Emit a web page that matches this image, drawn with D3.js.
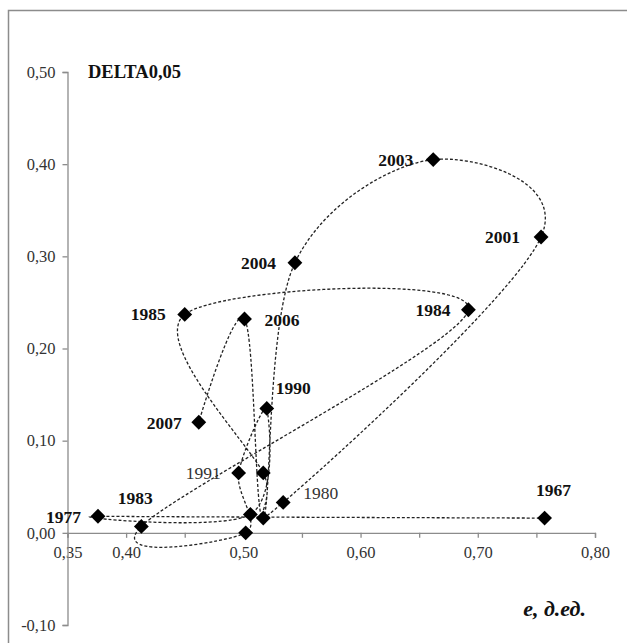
<!DOCTYPE html>
<html>
<head>
<meta charset="utf-8">
<script src="https://cdn.jsdelivr.net/npm/d3@7"></script>
<style>
  body { margin: 0; background: #fff; }
  svg { display: block; font-family: "Liberation Serif", "Times New Roman", serif; }
</style>
</head>
<body>
<svg class="chart" width="627" height="643"></svg>
<script>
// points in the order the smoothed line runs through them (unlabeled points left blank)
const years = ["1967", "1977", "", "1990", "1991", "", "1983", "1984", "1985", "", "1980", "2001", "2003", "2004", "", "2006", "2007"]
const eValues = [0.757, 0.376, 0.506, 0.520, 0.496, 0.502, 0.413, 0.692, 0.450, 0.517, 0.534, 0.754, 0.662, 0.544, 0.517, 0.501, 0.462]
const deltaValues = [0.016, 0.018, 0.020, 0.135, 0.065, 0.000, 0.007, 0.242, 0.237, 0.065, 0.033, 0.321, 0.405, 0.293, 0.016, 0.232, 0.120]

const xTicks = [0.35, 0.40, 0.45, 0.50, 0.55, 0.60, 0.65, 0.70, 0.75, 0.80]
const xTickLabels = ["0,35", "0,40", "", "0,50", "", "0,60", "", "0,70", "", "0,80"]
const yTicks = [-0.10, 0.00, 0.10, 0.20, 0.30, 0.40, 0.50]
const yTickLabels = ["-0,10", "0,00", "0,10", "0,20", "0,30", "0,40", "0,50"]

// label placement: [dx, dy, anchor, bold]
const labelPlace = {
  "1967": [9, -22, "middle", true],
  "1977": [-17, 7, "end", true],
  "1980": [20, -3, "start", false],
  "1983": [-6, -22, "middle", true],
  "1984": [-18, 6, "end", true],
  "1985": [-19, 6, "end", true],
  "1990": [9, -14, "start", true],
  "1991": [-18, 6, "end", false],
  "2001": [-21, 6, "end", true],
  "2003": [-20, 6, "end", true],
  "2004": [-19, 6, "end", true],
  "2006": [20, 7, "start", true],
  "2007": [-17, 7, "end", true]
}

const data = years.map((y, i) => ({ year: y, e: eValues[i], delta: deltaValues[i] }))

const svg = d3.select('svg.chart')

// frame (only top and left edges fall inside the picture)
svg.append('rect')
  .attr('x', 8.5).attr('y', 10.5)
  .attr('width', 700).attr('height', 700)
  .attr('fill', 'none')
  .attr('stroke', '#8c8c8c')
  .attr('stroke-width', 1.5)

const xScale = d3.scaleLinear().domain([0.35, 0.80]).range([67.5, 595])
const yScale = d3.scaleLinear().domain([-0.10, 0.50]).range([625, 72])

// x axis at zero
const xAxis = svg.append('g')
  .attr('transform', `translate(0, ${yScale(0)})`)
  .call(d3.axisBottom(xScale)
    .tickValues(xTicks)
    .tickSizeOuter(0)
    .tickSize(5)
    .tickFormat((d, i) => xTickLabels[i]))

// y axis at e = 0.35
const yAxis = svg.append('g')
  .attr('transform', `translate(${xScale(0.35)}, 0)`)
  .call(d3.axisLeft(yScale)
    .tickValues(yTicks)
    .tickSizeOuter(0)
    .tickSize(5)
    .tickFormat((d, i) => yTickLabels[i]))

svg.selectAll('.domain, .tick line').attr('stroke', '#8c8c8c').attr('stroke-width', 1.3)
svg.selectAll('.tick text')
  .style('font-family', '"Liberation Serif", "Times New Roman", serif')
  .style('font-size', '16.5px')
  .attr('fill', '#333')
xAxis.selectAll('.tick text').attr('y', 13)
yAxis.selectAll('.tick text').attr('x', -12)

// smoothed dashed line through the points (uniform Catmull-Rom, like spreadsheet smoothing)
const line = d3.line()
  .x(d => xScale(d.e))
  .y(d => yScale(d.delta))
  .curve(d3.curveCatmullRom.alpha(0))

svg.append('path')
  .datum(data)
  .attr('d', line)
  .attr('fill', 'none')
  .attr('stroke', '#222')
  .attr('stroke-width', 1.3)
  .attr('stroke-dasharray', '3,2')

// diamond markers
svg.selectAll('.pt')
  .data(data)
  .enter()
  .append('path')
  .attr('class', 'pt')
  .attr('d', d3.symbol(d3.symbolSquare, 110))
  .attr('transform', d => `translate(${xScale(d.e)}, ${yScale(d.delta)}) rotate(45)`)
  .attr('fill', '#000')

// year labels
svg.selectAll('.lbl')
  .data(data.filter(d => d.year !== ""))
  .enter()
  .append('text')
  .attr('class', 'lbl')
  .attr('x', d => xScale(d.e) + labelPlace[d.year][0])
  .attr('y', d => yScale(d.delta) + labelPlace[d.year][1])
  .attr('text-anchor', d => labelPlace[d.year][2])
  .style('font-weight', d => labelPlace[d.year][3] ? 'bold' : 'normal')
  .style('font-size', '17.5px')
  .attr('fill', d => labelPlace[d.year][3] ? '#111' : '#333')
  .text(d => d.year)

// axis titles
svg.append('text')
  .attr('x', 88)
  .attr('y', 78)
  .style('font-weight', 'bold')
  .style('font-size', '18.5px')
  .attr('fill', '#111')
  .text('DELTA0,05')

svg.append('text')
  .attr('x', 586)
  .attr('y', 616)
  .attr('text-anchor', 'end')
  .style('font-weight', 'bold')
  .style('font-style', 'italic')
  .style('font-size', '22px')
  .attr('fill', '#111')
  .text('e, д.ед.')
</script>
</body>
</html>
